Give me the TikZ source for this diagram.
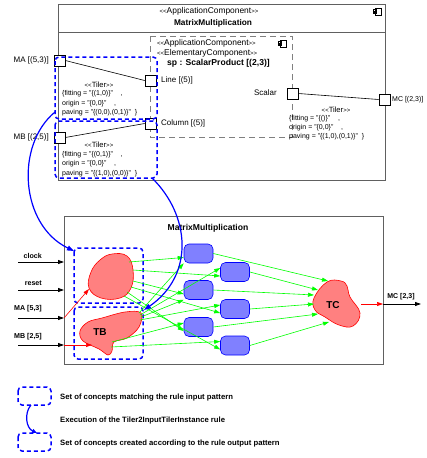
\documentclass[tikz,border=0pt]{standalone}
\usepackage{fontspec}
\setmainfont{Liberation Sans}
\usetikzlibrary{arrows.meta}
\definecolor{salmon}{HTML}{FF8080}
\definecolor{lblue}{HTML}{8080FF}
\definecolor{frame}{HTML}{606060}
\newcommand\sopen{{\fontsize{6}{6}\selectfont<\kern0pt<}}
\newcommand\sclose{{\fontsize{6}{6}\selectfont>\kern0pt>}}
\begin{document}
\begin{tikzpicture}[x=1pt,y=-1pt,
  port/.style={draw=black, fill=white, minimum size=11pt, inner sep=0pt, line width=0.6pt},
  small/.style={font=\fontsize{8.4}{9}\selectfont, inner sep=0pt},
  lbl/.style={font=\fontsize{8}{9}\selectfont, inner sep=0pt},
  tiler/.style={font=\fontsize{7}{8}\selectfont, inner sep=0pt, anchor=west},
  blabel/.style={font=\bfseries\fontsize{7.1}{8}\selectfont, inner sep=0pt},
  legend/.style={font=\bfseries\fontsize{7.7}{8}\selectfont, inner sep=0pt, anchor=west},
  bluedash/.style={draw=blue, line width=1.5pt, dash pattern=on 4pt off 3pt, rounded corners=4pt},
  task/.style={draw=blue, fill=lblue, rounded corners=5pt, minimum width=29pt, minimum height=19pt, inner sep=0pt, line width=0.6pt},
  blob/.style={draw=red, fill=salmon, line width=0.6pt},
  garrow/.style={draw=green, line width=0.6pt, -{Triangle[length=6pt,width=4pt]}},
  barrow/.style={draw=black, line width=0.8pt, -{Triangle[length=6pt,width=4pt]}},
  rarrow/.style={draw=red, line width=0.6pt, -{Triangle[length=6pt,width=4pt]}},
  bcurve/.style={draw=blue, line width=1.2pt, -{Triangle[length=7pt,width=5pt]}},
  icon/.style={draw=black, line width=0.5pt}
]
\useasboundingbox (0,0) rectangle (427,458);

% ---------------- top component ----------------
\draw[frame, line width=0.8pt] (58,4) rectangle (385,180);
\draw[frame, line width=0.8pt] (58,32) -- (385,32);
\node[small] (h1) at (209,11) {\sopen ApplicationComponent\sclose};
\node[small, font=\bfseries\fontsize{8.3}{9}\selectfont] (h2) at (213,23) {MatrixMultiplication};
% icon outer
\draw[icon] (375,8) rectangle (381,15);
\draw[icon] (373,9.5) rectangle (376.5,11);
\draw[icon] (373,12) rectangle (376.5,13.5);
% inner dashed
\draw[gray, line width=0.9pt, dash pattern=on 6pt off 4pt] (150,36) rectangle (292,137);
\node[small, anchor=west] (i1) at (157,43) {\sopen ApplicationComponent\sclose};
\node[small, anchor=west] (i2) at (157,53) {\sopen ElementaryComponent\sclose};
\node[small, anchor=west, font=\bfseries\fontsize{8.6}{9}\selectfont] (i3) at (167,63) {sp : ScalarProduct [(2,3)]};
\draw[icon] (280,40) rectangle (286,47);
\draw[icon] (278,41.5) rectangle (281.5,43);
\draw[icon] (278,44) rectangle (281.5,45.5);

% ports
\node[port] (ma) at (59.5,60.5) {};
\node[port] (mb) at (59.5,137.5) {};
\node[port] (line) at (150.5,80.5) {};
\node[port] (col) at (150.5,123.5) {};
\node[port] (scal) at (292.5,93.5) {};
\node[port] (mc) at (384.5,99.5) {};
\node[lbl, anchor=east] (mal) at (49,60) {MA [(5,3)]};
\node[lbl, anchor=east] (mbl) at (49,137) {MB [(2,5)]};
\node[lbl, anchor=west] (linel) at (161,80) {Line [(5)]};
\node[lbl, anchor=west] (coll) at (161,123) {Column [(5)]};
\node[lbl, anchor=east] (scall) at (277,93) {Scalar};
\node[lbl, anchor=west, font=\fontsize{7}{8}\selectfont] (mcl) at (392,100) {MC [(2,3)]};
\draw[line width=0.6pt] (ma.east) -- (line.west);
\draw[line width=0.6pt] (mb.east) -- (col.west);
\draw[line width=0.6pt] (scal.east) -- (mc.west);

% tilers
\node[small, font=\fontsize{7.6}{8}\selectfont] (t1) at (99,85) {\sopen Tiler\sclose};
\node[tiler] (t1a) at (62,94) {\{fitting = "\{(1,0)\}"\ \ \ \ ,};
\node[tiler] (t1b) at (62,104) {origin = "\{0,0\}"\ \ \ \ ,};
\node[tiler] (t1c) at (62,113) {paving = "\{(0,0),(0,1)\}"\ \ \}};
\node[small, font=\fontsize{7.6}{8}\selectfont] (t2) at (99,145) {\sopen Tiler\sclose};
\node[tiler] (t2a) at (62,155) {\{fitting = "\{(0,1)\}"\ \ \ \ ,};
\node[tiler] (t2b) at (62,164) {origin = "\{0,0\}"\ \ \ \ ,};
\node[tiler] (t2c) at (62,174) {paving = "\{(1,0),(0,0)\}"\ \ \}};
\node[small, font=\fontsize{7.6}{8}\selectfont] (t3) at (336,110) {\sopen Tiler\sclose};
\node[tiler] (t3a) at (289,119) {\{fitting = "\{()\}"\ \ \ \ ,};
\node[tiler] (t3b) at (289,128) {origin = "\{0,0\}"\ \ \ \ ,};
\node[tiler] (t3c) at (289,137) {paving = "\{(1,0),(0,1)\}"\ \ \}};

% blue dashed sets top
\draw[bluedash] (55,57) rectangle (157,119);
\draw[bluedash] (55,121) rectangle (157,178);

% ---------------- bottom ----------------
\draw[frame, line width=1pt] (64,216) rectangle (383,364);
\node[blabel, font=\bfseries\fontsize{8.6}{9}\selectfont] (bt) at (208,228) {MatrixMultiplication};

% inputs
\coordinate (ck0) at (18,262); \coordinate (ck1) at (64,262);
\coordinate (rs0) at (18,290); \coordinate (rs1) at (64,290);
\coordinate (ia0) at (18,318); \coordinate (ia1) at (64,318);
\coordinate (ib0) at (18,345); \coordinate (ib1) at (64,345);
\draw[barrow] (ck0) -- (ck1);
\draw[barrow] (rs0) -- (rs1);
\draw[barrow] (ia0) -- (ia1);
\draw[barrow] (ib0) -- (ib1);
\node[blabel, anchor=east] (ckl) at (42,256) {clock};
\node[blabel, anchor=east] (rsl) at (42,283) {reset};
\node[blabel, anchor=east] (ial) at (42,309) {MA [5,3]};
\node[blabel, anchor=east] (ibl) at (42,337) {MB [2,5]};

% dashed sets bottom
\draw[bluedash] (74,248) rectangle (143,303);
\draw[bluedash] (74,307) rectangle (143,359);

% blobs
\draw[blob] plot[smooth cycle, tension=0.7] coordinates {(112,254) (127,256) (133,270) (131,288) (120,298) (101,298) (89,288) (91,272) (100,260)};
\draw[blob] plot[smooth cycle, tension=0.6] coordinates {(102,318) (125,312) (141,313) (139,327) (127,338) (114,342) (112,351) (108,355) (99,349) (83,341) (80,331) (88,322)};
\node[font=\bfseries\fontsize{10}{12}\selectfont, inner sep=0pt] (tb) at (100,332) {TB};
\draw[blob] plot[smooth cycle, tension=0.7] coordinates {(327,282) (341,281) (347,286) (350,297) (360,313) (353,326) (339,325) (325,317) (315,310) (314,298)};
\node[font=\bfseries\fontsize{10}{12}\selectfont, inner sep=0pt] (tc) at (333,305) {TC};

% blob anchors
\coordinate (ta0) at (89,289);
\coordinate (tb0) at (92,345);
\coordinate (ta1) at (129,262);
\coordinate (ta2) at (133,270);
\coordinate (ta3) at (133,281);
\coordinate (ta4) at (131,287);
\coordinate (ta5) at (127,292);
\coordinate (ta6) at (124,296);
\coordinate (tb1) at (139,313);
\coordinate (tb2) at (140,315);
\coordinate (tb3) at (141,317);
\coordinate (tb4) at (140,320);
\coordinate (tb5) at (112,342);
\coordinate (tb6) at (111,347);
\coordinate (tc1) at (328,281);
\coordinate (tc2) at (318,290);
\coordinate (tc3) at (314,295);
\coordinate (tc4) at (314,304);
\coordinate (tc5) at (318,314);
\coordinate (tc6) at (329,322);
\coordinate (tco) at (361,304);
\coordinate (bxo) at (383,304);
\coordinate (mco) at (421,304);

% red input arrows
\draw[rarrow] (ia1) -- (ta0);
\draw[rarrow] (ib1) -- (tb0);

% tasks
\node[task] (c11) at (198.5,253.5) {};
\node[task] (c12) at (198.5,290) {};
\node[task] (c13) at (198.5,327) {};
\node[task] (c21) at (235,272) {};
\node[task] (c22) at (235,309) {};
\node[task] (c23) at (235,345.5) {};

% green arrows in
\draw[garrow] (ta1) -- ([yshift=-4pt]c11.west);
\draw[garrow] (ta2) -- ([yshift=-4pt]c21.west);
\draw[garrow] (ta3) -- ([yshift=-4pt]c12.west);
\draw[garrow] (ta4) -- ([yshift=-4pt]c22.west);
\draw[garrow] (ta5) -- ([yshift=-4pt]c13.west);
\draw[garrow] (ta6) -- ([yshift=-4pt]c23.west);
\draw[garrow] (tb1) -- (c11.south west);
\draw[garrow] (tb2) -- ([yshift=4pt]c21.west);
\draw[garrow] (tb3) -- (c12.south west);
\draw[garrow] (tb4) -- ([yshift=4pt]c22.west);
\draw[garrow] (tb5) -- ([yshift=4pt]c13.west);
\draw[garrow] (tb6) -- ([yshift=4pt]c23.west);
% green arrows out
\draw[garrow] (c11.east) -- (tc1);
\draw[garrow] (c21.east) -- (tc2);
\draw[garrow] (c12.east) -- (tc3);
\draw[garrow] (c22.east) -- (tc4);
\draw[garrow] (c13.east) -- (tc5);
\draw[garrow] (c23.east) -- (tc6);

% output
\draw[rarrow] (tco) -- (bxo);
\draw[barrow] (bxo) -- (mco);
\node[blabel, font=\bfseries\fontsize{7}{8}\selectfont] (mcol) at (401,297) {MC [2,3]};

% big blue curves
\coordinate (s1) at (55,112);
\coordinate (e1) at (74,251);
\coordinate (s2) at (152,178);
\coordinate (e2) at (144,310);
\draw[bcurve] (s1) .. controls (15,145) and (20,225) .. (e1);
\draw[bcurve] (s2) .. controls (190,215) and (195,275) .. (e2);

% ---------------- legend ----------------
\draw[bluedash] (18,387) rectangle (51,405);
\draw[bluedash] (18,433) rectangle (51,451);
\coordinate (l1) at (31,405);
\coordinate (l2) at (37,433);
\draw[draw=blue, line width=1.2pt, -{Triangle[length=5pt,width=4pt]}] (l1) .. controls (24,413) and (26,428) .. (l2);
\node[legend] (lg1) at (60,398) {Set of concepts matching the rule input pattern};
\node[legend] (lg2) at (60,421) {Execution of the Tiler2InputTilerInstance rule};
\node[legend] (lg3) at (60,444) {Set of concepts created according to the rule output pattern};
\end{tikzpicture}
\end{document}
